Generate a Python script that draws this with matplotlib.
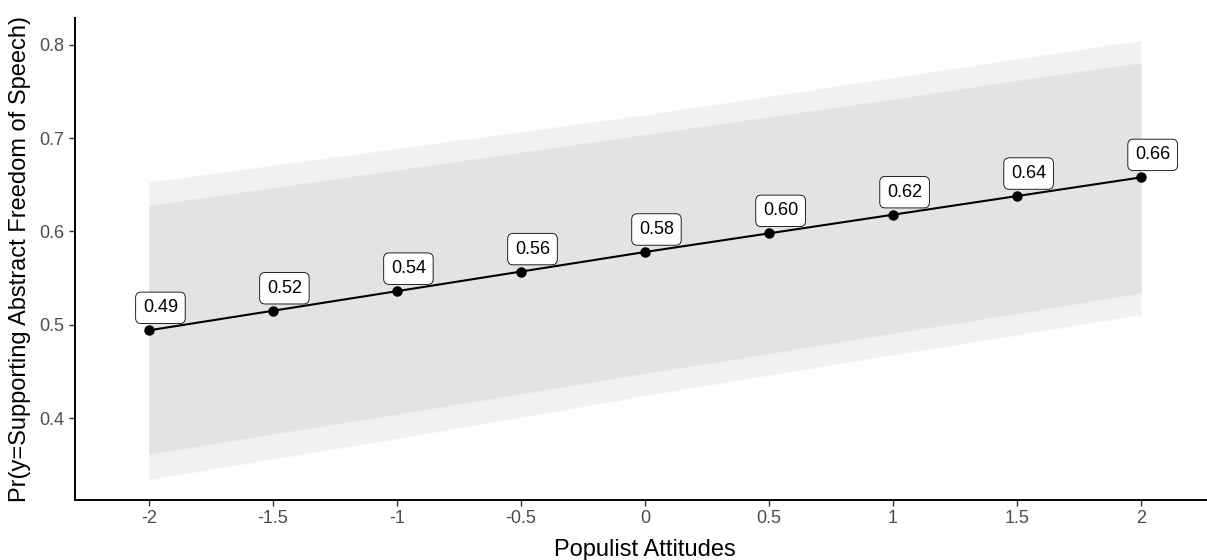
import matplotlib
matplotlib.use("Agg")
import matplotlib.pyplot as plt

plt.rcParams["font.family"] = ["Liberation Sans", "DejaVu Sans"]

# predicted probabilities by populist attitudes
x_vals = [-2, -1.5, -1, -0.5, 0, 0.5, 1, 1.5, 2]
pred = [0.494, 0.515, 0.536, 0.557, 0.578, 0.598, 0.618, 0.638, 0.658]
labels = ["0.49", "0.52", "0.54", "0.56", "0.58", "0.60", "0.62", "0.64", "0.66"]

# confidence bands (outer and inner)
outer_lo = [0.334, 0.356, 0.378, 0.401, 0.424, 0.446, 0.468, 0.489, 0.511]
outer_hi = [0.653, 0.671, 0.689, 0.707, 0.725, 0.745, 0.765, 0.785, 0.805]
inner_lo = [0.361, 0.383, 0.404, 0.426, 0.448, 0.469, 0.491, 0.512, 0.534]
inner_hi = [0.628, 0.647, 0.666, 0.685, 0.704, 0.723, 0.742, 0.762, 0.781]

x_ticks = [-2, -1.5, -1, -0.5, 0, 0.5, 1, 1.5, 2]
x_ticklabels = ["-2", "-1.5", "-1", "-0.5", "0", "0.5", "1", "1.5", "2"]
y_ticks = [0.4, 0.5, 0.6, 0.7, 0.8]


def main() -> None:
    fig = plt.figure(figsize=(12.07, 5.6), dpi=100)
    # panel runs slightly past the right edge of the figure (cropped, like the original)
    ax = fig.add_axes([0.0621, 0.107, 0.9445, 0.861])

    ax.fill_between(x_vals, outer_lo, outer_hi, color="#f1f1f1", lw=0, zorder=1)
    ax.fill_between(x_vals, inner_lo, inner_hi, color="#e3e3e3", lw=0, zorder=2)
    ax.plot(x_vals, pred, color="black", lw=1.5, zorder=3)
    ax.plot(x_vals, pred, "o", color="black", ms=6.5, zorder=4)

    for xv, yv, lab in zip(x_vals, pred, labels):
        ax.annotate(lab, (xv, yv), xytext=(-6, 18), textcoords="offset pixels",
                    ha="left", va="baseline", fontsize=13, color="black", zorder=5,
                    bbox=dict(boxstyle="round,pad=0.4,rounding_size=0.3",
                              fc="white", ec="black", lw=0.6))

    ax.set_xlim(-2.298, 2.298)
    ax.set_ylim(0.312, 0.829)
    ax.set_xticks(x_ticks)
    ax.set_xticklabels(x_ticklabels)
    ax.set_yticks(y_ticks)
    ax.tick_params(axis="both", labelsize=13, colors="#4d4d4d", length=4, width=1)
    ax.tick_params(axis="both", color="#333333")

    for side in ["top", "right"]:
        ax.spines[side].set_visible(False)
    for side in ["left", "bottom"]:
        ax.spines[side].set_linewidth(1.4)
        ax.spines[side].set_color("black")

    ax.set_xlabel("Populist Attitudes", fontsize=17, labelpad=8)
    ax.set_ylabel("Pr(y=Supporting Abstract Freedom of Speech)", fontsize=17, labelpad=6)

    fig.savefig("out.png", dpi=100)


if __name__ == "__main__":
    main()
